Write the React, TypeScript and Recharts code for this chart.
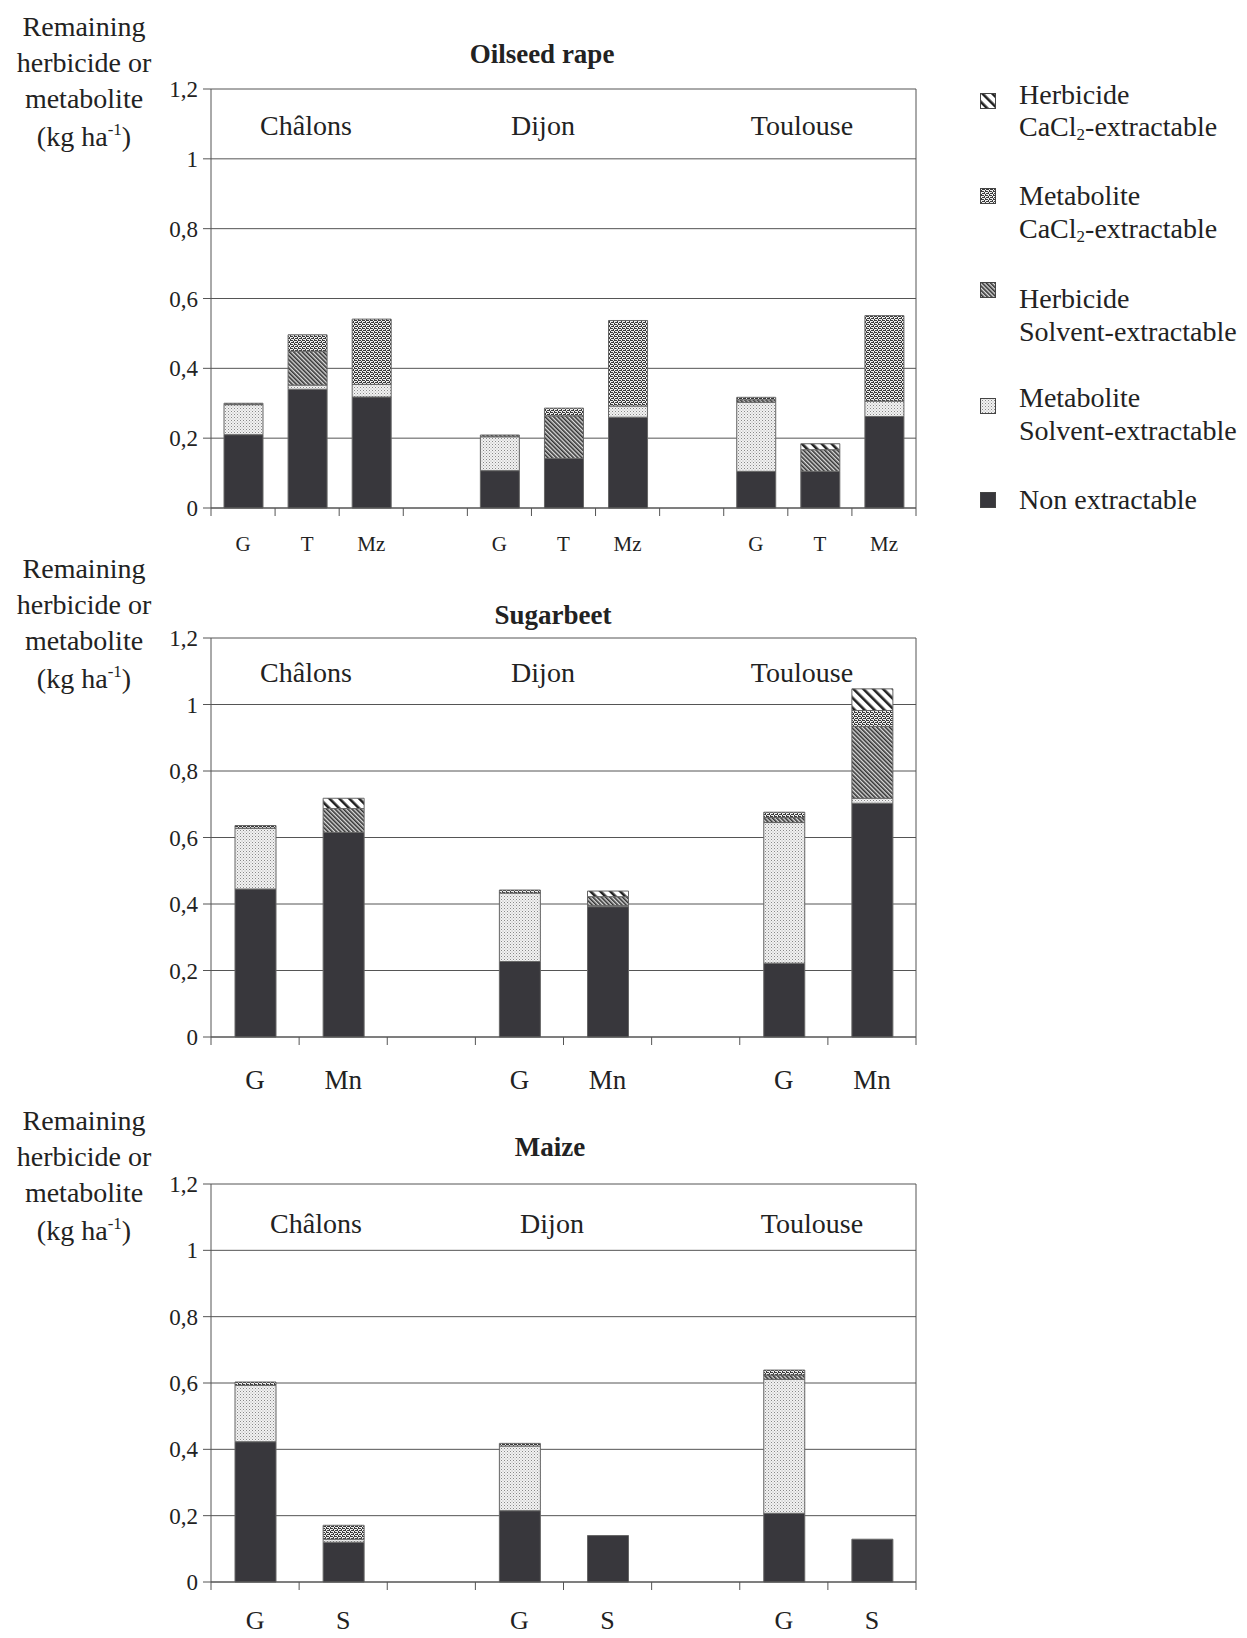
import React from "react";
import { BarChart, Bar, XAxis, YAxis, CartesianGrid } from "recharts";

// Oilseed rape
const rapeCats = ["G", "T", "Mz", "", "G", "T", "Mz", "", "G", "T", "Mz"];
const rapeNonExtr = [0.21, 0.34, 0.318, 0, 0.107, 0.142, 0.26, 0, 0.105, 0.105, 0.262];
const rapeMetSolv = [0.086, 0.012, 0.036, 0, 0.097, 0, 0.032, 0, 0.198, 0, 0.044];
const rapeHerbSolv = [0.004, 0.097, 0, 0, 0.005, 0.122, 0, 0, 0.007, 0.062, 0];
const rapeMetCa = [0, 0.047, 0.187, 0, 0, 0.022, 0.245, 0, 0.007, 0, 0.245];
const rapeHerbCa = [0, 0, 0, 0, 0, 0, 0, 0, 0, 0.017, 0];

// Sugarbeet
const beetCats = ["G", "Mn", "", "G", "Mn", "", "G", "Mn"];
const beetNonExtr = [0.445, 0.615, 0, 0.227, 0.392, 0, 0.222, 0.703];
const beetMetSolv = [0.183, 0, 0, 0.206, 0.003, 0, 0.423, 0.015];
const beetHerbSolv = [0, 0.072, 0, 0, 0.027, 0, 0.015, 0.216];
const beetMetCa = [0.008, 0, 0, 0.009, 0, 0, 0.016, 0.048];
const beetHerbCa = [0, 0.031, 0, 0, 0.017, 0, 0, 0.065];

// Maize
const maizeCats = ["G", "S", "", "G", "S", "", "G", "S"];
const maizeNonExtr = [0.423, 0.12, 0, 0.215, 0.14, 0, 0.207, 0.129];
const maizeMetSolv = [0.17, 0.009, 0, 0.195, 0, 0, 0.404, 0];
const maizeHerbSolv = [0, 0, 0, 0, 0, 0, 0.013, 0];
const maizeMetCa = [0.01, 0.042, 0, 0.008, 0, 0, 0.015, 0];
const maizeHerbCa = [0, 0, 0, 0, 0, 0, 0, 0];

const yTicks = [0, 0.2, 0.4, 0.6, 0.8, 1, 1.2];
const sites = ["Châlons", "Dijon", "Toulouse"];

const FONT = "'Liberation Serif', 'DejaVu Serif', serif";
const PLOT_W = 705;

const build = (cats: string[], ne: number[], ms: number[], hs: number[], mc: number[], hc: number[]) =>
  cats.map((c, i) => ({ idx: i, label: c, ne: ne[i], ms: ms[i], hs: hs[i], mc: mc[i], hc: hc[i] }));

const fmtY = (v: number) => String(v).replace(".", ",");

const Txt = ({ x, y, size, bold, children }: any) => (
  <div
    style={{
      position: "absolute",
      left: x,
      top: y,
      transform: "translate(-50%, -50%)",
      fontFamily: FONT,
      fontSize: size,
      fontWeight: bold ? "bold" : "normal",
      color: "#222",
      whiteSpace: "nowrap",
      lineHeight: 1,
    }}
  >
    {children}
  </div>
);

// speckle cells for the metabolite CaCl2 fill
const mcDots = [
  [0, 0], [2, 0], [3, 0], [1, 1], [0, 2], [1, 2], [3, 2], [2, 3],
];

const Patterns = () => (
  <svg width={0} height={0} style={{ position: "absolute" }}>
    <defs>
      <pattern id="hc" width={7} height={7} patternUnits="userSpaceOnUse" patternTransform="rotate(-45)">
        <rect width={7} height={7} fill="#fff" />
        <rect x={0} y={0} width={2.6} height={7} fill="#222" />
      </pattern>
      <pattern id="mc" width={4} height={4} patternUnits="userSpaceOnUse">
        <rect width={4} height={4} fill="#eee" />
        {mcDots.map(([x, y], i) => (
          <rect key={i} x={x} y={y} width={1} height={1} fill="#3a3a3a" />
        ))}
      </pattern>
      <pattern id="hs" width={3} height={3} patternUnits="userSpaceOnUse" patternTransform="rotate(-45)">
        <rect width={3} height={3} fill="#ddd" />
        <rect x={0} y={0} width={1.6} height={3} fill="#333" />
      </pattern>
      <pattern id="ms" width={3} height={3} patternUnits="userSpaceOnUse">
        <rect width={3} height={3} fill="#f2f2f2" />
        <rect x={0} y={0} width={1} height={1} fill="#888" />
        <rect x={1.5} y={1.5} width={1} height={1} fill="#aaa" />
      </pattern>
    </defs>
  </svg>
);

const makeTick = (cats: string[], fontSize: number, dy: number) => (props: any) => {
  const { x, y, payload, index } = props;
  const slot = PLOT_W / cats.length;
  const last = index === cats.length - 1;
  return (
    <g>
      <line x1={x - slot / 2} y1={y} x2={x - slot / 2} y2={y + 8} stroke="#555" />
      {last && <line x1={x + slot / 2} y1={y} x2={x + slot / 2} y2={y + 8} stroke="#555" />}
      <text x={x} y={y + dy} textAnchor="middle" fontFamily={FONT} fontSize={fontSize} fill="#222">
        {cats[payload.value]}
      </text>
    </g>
  );
};

const Panel = ({ top, height, mt, xh, data, cats, barSize, fontSize, dy }: any) => (
  <div style={{ position: "absolute", left: 0, top }}>
    <BarChart
      width={930}
      height={height}
      data={data}
      barSize={barSize}
      margin={{ top: mt, right: 14, left: 151, bottom: 0 }}
    >
      <CartesianGrid
        stroke="#555"
        verticalCoordinatesGenerator={({ offset }: any) => [offset.left + offset.width]}
      />
      <XAxis
        dataKey="idx"
        height={xh}
        interval={0}
        tickLine={false}
        tickSize={0}
        tickMargin={0}
        axisLine={{ stroke: "#555" }}
        tick={makeTick(cats, fontSize, dy)}
      />
      <YAxis
        width={60}
        domain={[0, 1.2]}
        ticks={yTicks}
        tickFormatter={fmtY}
        tickSize={8}
        tickMargin={5}
        axisLine={{ stroke: "#555" }}
        tickLine={{ stroke: "#555" }}
        tick={{ fontFamily: FONT, fontSize: 23, fill: "#222" }}
      />
      <Bar dataKey="ne" stackId="s" fill="#38373c" stroke="#666" isAnimationActive={false} />
      <Bar dataKey="ms" stackId="s" fill="url(#ms)" stroke="#666" isAnimationActive={false} />
      <Bar dataKey="hs" stackId="s" fill="url(#hs)" stroke="#666" isAnimationActive={false} />
      <Bar dataKey="mc" stackId="s" fill="url(#mc)" stroke="#666" isAnimationActive={false} />
      <Bar dataKey="hc" stackId="s" fill="url(#hc)" stroke="#666" isAnimationActive={false} />
    </BarChart>
  </div>
);

const YLabel = ({ y }: { y: number }) => (
  <>
    <Txt x={84} y={y} size={28}>Remaining</Txt>
    <Txt x={84} y={y + 36} size={28}>herbicide or</Txt>
    <Txt x={84} y={y + 72} size={28}>metabolite</Txt>
    <Txt x={84} y={y + 109} size={28}>
      (kg ha<sup style={{ fontSize: 17 }}>-1</sup>)
    </Txt>
  </>
);

const legendItems = [
  { fill: "url(#hc)", lines: ["Herbicide", "CaCl2-extractable"], y: 101, ty: [95, 128] },
  { fill: "url(#mc)", lines: ["Metabolite", "CaCl2-extractable"], y: 196, ty: [196, 230] },
  { fill: "url(#hs)", lines: ["Herbicide", "Solvent-extractable"], y: 290, ty: [299, 332] },
  { fill: "url(#ms)", lines: ["Metabolite", "Solvent-extractable"], y: 406, ty: [398, 431] },
  { fill: "#38373c", lines: ["Non extractable"], y: 500, ty: [500] },
];

const renderLine = (s: string) => {
  if (s.startsWith("CaCl2")) {
    return (
      <>
        CaCl<sub style={{ fontSize: 17, verticalAlign: "-4px" }}>2</sub>
        {s.slice(5)}
      </>
    );
  }
  return s;
};

const Legend = () => (
  <>
    {legendItems.map((it, i) => (
      <React.Fragment key={i}>
        <svg width={18} height={18} style={{ position: "absolute", left: 979, top: it.y - 9 }}>
          <rect x={1.5} y={1.5} width={15} height={15} fill={it.fill} stroke="#444" />
        </svg>
        {it.lines.map((l, j) => (
          <div
            key={j}
            style={{
              position: "absolute",
              left: 1019,
              top: it.ty[j],
              transform: "translateY(-50%)",
              fontFamily: FONT,
              fontSize: 28,
              color: "#222",
              whiteSpace: "nowrap",
              lineHeight: 1,
            }}
          >
            {renderLine(l)}
          </div>
        ))}
      </React.Fragment>
    ))}
  </>
);

export default function App() {
  const rapeData = build(rapeCats, rapeNonExtr, rapeMetSolv, rapeHerbSolv, rapeMetCa, rapeHerbCa);
  const beetData = build(beetCats, beetNonExtr, beetMetSolv, beetHerbSolv, beetMetCa, beetHerbCa);
  const maizeData = build(maizeCats, maizeNonExtr, maizeMetSolv, maizeHerbSolv, maizeMetCa, maizeHerbCa);

  return (
    <div style={{ position: "absolute", left: 0, top: 0, width: 1247, height: 1638, background: "#fff", overflow: "hidden" }}>
      <Patterns />

      <Panel top={0} height={558} mt={89} xh={50} data={rapeData} cats={rapeCats} barSize={39} fontSize={21} dy={43} />
      <Panel top={560} height={537} mt={78} xh={60} data={beetData} cats={beetCats} barSize={41} fontSize={27} dy={52} />
      <Panel top={1100} height={538} mt={84} xh={56} data={maizeData} cats={maizeCats} barSize={41} fontSize={26} dy={47} />

      <YLabel y={27} />
      <YLabel y={569} />
      <YLabel y={1121} />

      <Txt x={542} y={54} size={27} bold>Oilseed rape</Txt>
      <Txt x={553} y={615} size={27} bold>Sugarbeet</Txt>
      <Txt x={550} y={1147} size={27} bold>Maize</Txt>

      <Txt x={306} y={126} size={28}>{sites[0]}</Txt>
      <Txt x={543} y={126} size={28}>{sites[1]}</Txt>
      <Txt x={802} y={126} size={28}>{sites[2]}</Txt>

      <Txt x={306} y={673} size={28}>{sites[0]}</Txt>
      <Txt x={543} y={673} size={28}>{sites[1]}</Txt>
      <Txt x={802} y={673} size={28}>{sites[2]}</Txt>

      <Txt x={316} y={1224} size={28}>{sites[0]}</Txt>
      <Txt x={552} y={1224} size={28}>{sites[1]}</Txt>
      <Txt x={812} y={1224} size={28}>{sites[2]}</Txt>

      <Legend />
    </div>
  );
}
